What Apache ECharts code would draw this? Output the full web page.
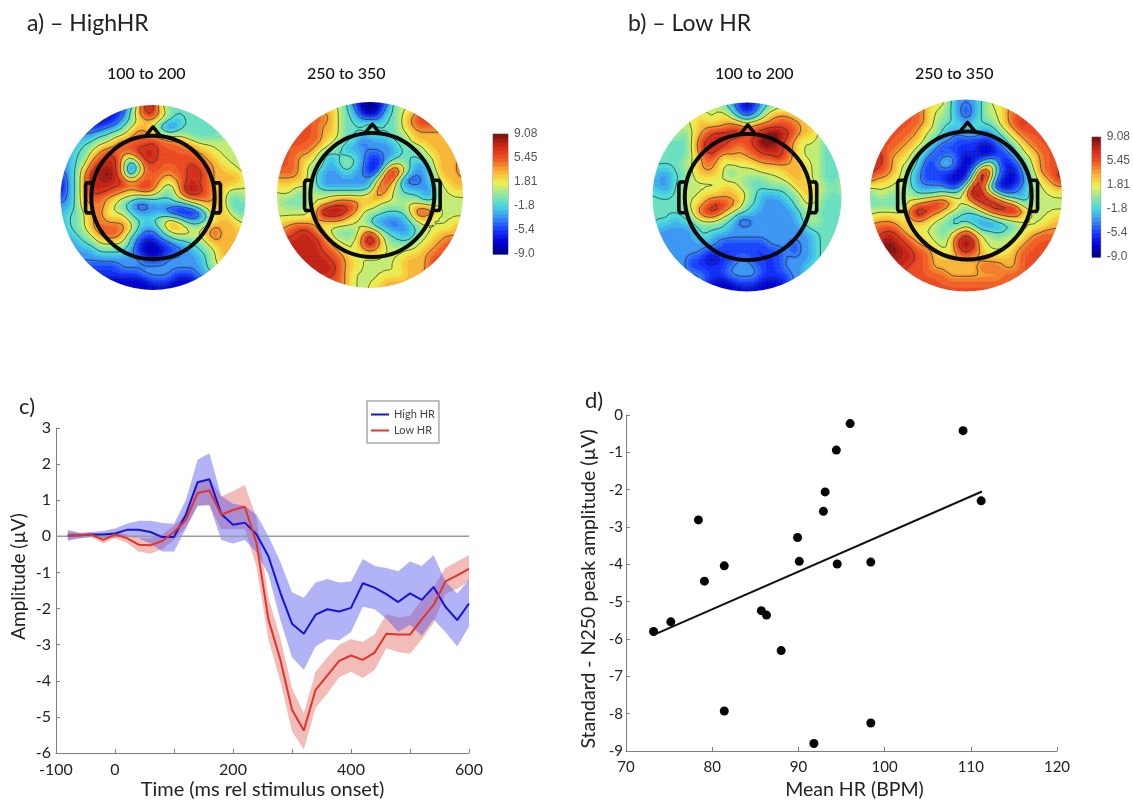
<!DOCTYPE html>
<html><head><meta charset="utf-8">
<style>html,body{margin:0;padding:0;background:#fff}#c{width:1133px;height:801px}</style>
<script src="https://cdn.jsdelivr.net/npm/echarts@6/dist/echarts.min.js"></script>
</head><body><div id="c"></div>
<script>
// Digit scale of the topographic grids: 0=-9 ... 9=+9 µV, nodes
const levelValues = [-9,-7,-5,-3,-1,1,3,5,7,9];
const highEarly = [
"2 2 2 2 2 2 2 2 2 3 5 8 8 5 4 4 4 4 4 4 4 4 4 4 4",
"2 2 2 2 2 2 2 1 2 4 6 8 8 6 5 4 4 4 4 4 4 4 4 4 4",
"2 2 2 2 1 1 1 2 3 4 5 6 6 5 4 3 4 4 4 4 4 4 4 4 4",
"3 3 3 2 2 2 3 3 4 5 6 6 5 3 2 3 4 4 4 4 4 5 5 5 5",
"3 3 3 3 3 4 4 5 5 6 7 7 6 6 5 5 5 4 4 4 4 4 5 5 5",
"3 3 3 4 4 5 5 6 7 7 7 7 8 7 7 7 6 6 5 5 5 5 5 5 5",
"3 3 4 4 5 6 7 7 7 7 8 8 8 7 7 7 7 7 6 6 5 5 5 5 5",
"3 3 4 4 6 7 8 8 6 4 6 8 8 7 7 7 7 7 7 6 6 5 5 5 5",
"3 3 4 5 7 8 8 8 6 2 3 7 7 7 7 7 7 8 7 7 6 6 5 5 4",
"2 3 4 6 8 8 9 8 6 2 5 7 7 7 6 7 7 8 8 7 6 6 6 6 5",
"1 3 4 6 8 8 8 8 8 7 7 7 7 6 5 6 7 8 7 7 6 6 6 6 5",
"1 3 4 6 8 8 8 7 7 6 7 8 7 5 4 5 8 9 8 7 6 6 5 5 5",
"2 3 4 6 7 7 6 6 5 5 4 4 4 4 4 5 6 7 7 7 6 6 4 4 5",
"3 3 4 6 6 7 6 5 4 3 2 2 3 3 3 3 3 4 5 6 6 6 4 4 4",
"3 4 4 5 6 7 5 5 5 4 3 3 3 3 2 1 1 1 2 4 6 6 5 4 4",
"3 4 4 5 6 7 6 6 6 5 4 4 4 5 6 6 4 3 3 4 5 6 6 5 5",
"3 4 4 5 6 7 7 7 7 6 4 3 3 4 6 6 6 5 5 6 7 6 6 6 5",
"3 3 4 4 5 6 7 7 6 4 3 2 2 3 4 5 5 5 5 6 7 6 6 6 5",
"3 3 3 4 4 5 5 5 5 4 2 1 1 2 2 3 3 4 4 5 6 6 6 6 5",
"3 3 3 3 3 4 4 4 4 3 2 1 0 1 2 2 3 3 4 4 5 6 6 6 5",
"3 3 3 3 3 3 3 3 3 3 3 2 2 2 3 3 3 3 3 4 5 6 6 6 5",
"2 2 2 2 2 2 2 2 3 3 3 3 3 3 3 3 3 3 3 4 5 5 6 6 6",
"2 2 2 2 2 2 2 2 2 2 2 3 3 3 3 2 2 2 3 3 4 5 5 5 5",
"1 1 1 1 1 1 1 1 1 1 1 1 2 2 2 1 1 1 2 3 4 4 4 4 4",
"1 1 1 1 1 1 1 1 1 1 1 1 1 1 1 1 1 1 2 3 4 4 4 4 4"];
const highLate = [
"7 7 7 7 7 5 5 5 5 4 2 1 0 1 2 4 5 5 5 6 6 6 6 6 6",
"7 7 7 7 7 6 6 6 5 4 3 1 0 1 3 4 5 5 6 7 7 6 6 6 6",
"7 7 7 7 7 7 7 6 5 4 4 2 2 2 4 4 5 6 7 8 7 7 6 6 6",
"7 7 7 7 7 7 6 6 5 4 4 4 5 4 4 4 5 6 7 7 7 7 6 6 6",
"7 7 7 7 7 7 6 6 5 4 4 4 4 4 4 4 5 5 6 6 6 6 6 6 6",
"7 7 7 7 7 7 6 5 5 4 4 2 3 3 3 4 4 5 6 6 6 6 6 6 6",
"7 7 7 7 7 6 5 5 4 3 3 3 3 3 3 3 4 4 4 5 6 6 6 6 6",
"7 7 7 6 6 5 4 3 4 4 4 3 2 2 3 3 4 4 4 5 5 6 6 6 6",
"7 7 7 6 5 5 4 3 4 5 4 3 2 1 3 5 5 4 3 3 5 6 6 6 7",
"7 7 7 6 5 4 3 3 3 4 3 3 1 2 6 9 7 4 3 3 4 6 6 6 7",
"6 6 6 6 5 4 3 3 3 3 3 3 3 5 8 7 3 2 2 3 4 5 6 6 6",
"5 6 5 5 5 4 3 3 3 3 3 3 3 7 7 5 4 3 3 3 3 5 5 6 6",
"5 5 5 4 5 5 5 5 5 5 5 5 6 7 6 5 4 4 4 3 3 5 5 5 5",
"5 4 4 4 4 5 5 6 7 7 7 6 6 5 5 5 5 5 5 4 4 5 5 5 5",
"5 5 5 5 5 6 9 9 9 8 7 5 5 5 4 4 4 5 7 8 7 5 5 5 5",
"5 5 5 5 5 6 7 7 7 6 5 5 4 3 3 3 3 4 6 6 5 5 5 5 5",
"6 6 7 7 7 6 5 5 5 5 5 5 4 3 3 2 3 3 4 5 5 5 5 6 6",
"6 7 7 8 8 7 6 5 4 4 4 6 8 6 4 4 3 3 4 5 5 6 6 6 6",
"7 8 8 8 8 8 7 6 5 5 5 7 9 7 5 4 4 4 5 5 6 6 7 7 7",
"8 8 8 8 8 8 7 7 6 5 5 6 7 6 5 5 5 5 5 6 6 7 7 7 7",
"8 8 8 8 8 8 8 7 7 6 5 5 5 5 5 5 5 6 6 6 7 7 7 7 7",
"8 8 8 8 8 8 8 8 7 6 6 5 5 5 5 5 6 6 6 6 7 8 7 7 7",
"8 8 8 8 8 8 8 8 7 6 5 5 5 5 5 5 5 6 6 6 7 8 7 7 7",
"8 8 8 8 8 8 7 7 7 6 5 5 5 5 6 6 6 6 6 7 7 7 7 7 7",
"7 7 7 7 7 7 7 7 7 6 5 5 5 6 6 6 6 6 6 7 7 7 7 7 7"];
const lowEarly = [
"5 5 5 5 5 5 5 5 5 4 3 2 1 2 3 4 5 5 5 5 5 5 5 5 5",
"5 5 5 5 5 5 5 5 5 5 4 2 1 2 4 5 5 5 5 5 5 5 5 5 5",
"5 5 5 5 5 5 6 5 5 6 5 4 3 4 5 6 7 7 6 6 5 5 5 5 5",
"5 5 5 5 5 5 6 6 6 6 7 7 6 7 7 7 7 7 7 6 6 5 5 5 5",
"5 5 5 5 4 5 6 7 8 8 8 8 7 7 8 9 9 8 7 6 6 5 5 5 4",
"5 5 4 4 4 5 7 8 8 8 7 7 7 8 9 9 8 7 6 5 5 5 4 4 4",
"5 5 4 4 4 5 7 8 8 7 7 6 7 7 8 8 8 7 6 5 5 5 4 4 4",
"4 4 4 4 4 5 6 7 7 5 6 6 6 7 7 7 8 7 6 5 5 5 4 4 4",
"4 4 4 4 5 5 6 7 6 5 5 5 5 5 6 6 6 6 6 6 5 5 4 4 4",
"4 3 3 4 4 5 6 6 6 5 4 5 5 5 5 5 5 6 6 6 5 5 4 4 4",
"3 3 3 4 4 5 5 5 5 5 5 5 4 4 4 5 5 5 6 6 5 5 4 4 5",
"4 3 3 4 5 5 5 5 5 6 6 5 5 4 4 4 4 4 5 6 6 5 5 4 5",
"4 4 4 4 5 5 5 6 6 6 6 6 5 4 3 3 3 4 4 5 6 5 4 4 4",
"4 4 4 4 5 5 6 7 8 8 7 6 4 4 3 3 3 3 4 5 5 5 4 4 4",
"4 4 4 4 4 5 7 8 8 6 5 4 4 3 3 3 3 3 3 4 5 4 4 4 4",
"4 4 4 3 4 4 5 5 5 4 4 2 2 3 3 3 3 3 3 4 5 5 4 4 4",
"4 3 3 3 3 3 4 4 4 4 3 3 3 3 3 3 3 3 3 3 4 4 4 4 4",
"3 3 3 3 3 3 4 4 3 3 3 3 3 3 3 3 3 3 3 3 3 4 4 4 4",
"3 3 3 3 3 3 3 3 3 2 2 2 2 2 2 3 3 3 2 3 3 4 4 4 4",
"3 3 3 3 3 3 3 2 2 2 2 2 2 2 2 2 2 3 2 3 3 4 4 4 4",
"3 3 3 3 3 2 2 1 1 2 2 3 3 2 2 2 2 3 3 3 3 4 4 4 4",
"3 3 3 3 3 2 2 2 2 2 3 3 3 3 2 2 2 3 3 3 4 4 4 4 4",
"3 3 3 3 3 3 3 2 2 2 3 3 3 3 2 2 2 2 3 3 4 4 4 4 4",
"3 3 3 3 3 3 3 2 1 1 1 2 2 2 1 1 1 2 3 3 4 4 4 4 4",
"1 1 1 1 1 1 1 1 1 1 1 1 1 1 1 1 1 1 2 3 4 4 4 4 4"];
const lowLate = [
"6 6 6 6 6 6 6 6 6 6 4 3 3 3 4 5 6 6 6 6 6 6 6 6 6",
"7 7 7 7 7 7 7 6 5 5 4 3 2 3 4 5 5 6 7 7 7 7 7 7 7",
"7 7 7 7 7 7 7 6 5 5 4 3 2 3 4 5 5 6 7 7 7 7 7 7 7",
"7 7 7 7 7 7 7 6 5 4 4 4 3 4 4 4 5 6 7 8 7 7 7 7 7",
"7 7 7 7 7 7 6 5 5 4 3 3 4 4 3 3 4 5 6 7 7 7 7 7 7",
"7 7 7 7 7 6 6 5 4 3 3 2 2 2 2 2 3 4 5 6 7 7 7 7 7",
"8 7 7 7 6 6 5 4 3 2 2 2 2 2 1 1 2 3 4 5 6 7 7 7 7",
"8 8 7 6 6 5 4 3 2 2 3 2 1 2 1 1 2 2 3 5 5 6 7 7 7",
"8 8 7 6 5 5 4 2 2 4 4 2 1 1 3 6 3 1 2 3 5 6 7 7 7",
"8 7 7 6 5 4 3 2 2 2 2 1 1 3 9 7 3 2 1 3 4 6 7 7 8",
"7 6 6 5 5 4 3 2 2 2 1 1 1 6 9 6 2 1 1 2 4 5 6 7 8",
"5 5 5 5 5 4 3 3 3 3 2 2 5 9 7 3 1 1 2 3 4 5 5 6 6",
"4 5 5 4 5 5 4 4 4 5 5 5 6 9 8 7 5 3 3 3 4 5 5 5 5",
"4 4 4 4 4 5 6 7 8 8 7 5 5 6 8 8 8 7 6 4 4 5 5 5 5",
"5 5 5 5 5 7 9 8 7 6 5 5 4 4 5 7 8 8 9 7 5 5 5 5 5",
"5 6 6 6 5 6 7 6 5 5 4 3 3 3 3 3 4 5 5 5 5 5 5 6 6",
"7 7 7 7 6 5 5 5 5 4 4 4 6 4 3 3 3 3 4 5 5 5 6 6 6",
"7 7 8 8 7 6 6 5 5 4 5 7 8 7 5 5 4 5 5 5 6 7 7 7 7",
"7 8 9 8 8 7 6 6 5 5 5 8 9 8 5 5 5 5 5 6 7 7 7 7 7",
"7 8 8 9 8 8 7 7 6 5 5 7 8 7 6 5 5 5 6 7 7 7 7 7 7",
"7 8 8 8 8 8 7 7 6 6 6 6 6 6 6 6 6 6 6 7 7 7 7 7 7",
"7 7 8 8 8 7 7 7 6 6 6 6 6 6 7 7 7 6 6 7 7 8 7 7 7",
"7 7 7 7 7 7 7 7 7 7 6 6 6 6 6 6 6 7 7 7 7 7 7 7 7",
"7 7 7 7 7 7 7 7 7 7 7 7 7 7 7 7 7 7 7 7 7 7 7 7 7",
"7 7 7 7 7 7 7 7 7 7 7 7 7 7 7 7 7 7 7 7 7 7 7 7 7"];

const contourLevels = [-6.43,-3.86,-1.29,1.29,3.86,6.43];
const colorbarTickLabels = ['-9.0','-5.4','-1.8','1.81','5.45','9.08'];
const colorStops = [[-9,'#00007f'],[-7.2,'#0000d8'],[-5.4,'#1538ff'],[-3.6,'#3a8cf5'],[-1.8,'#45d8e0'],[0,'#90e8a0'],[1.81,'#f2f04a'],[3.6,'#f8ac34'],[5.45,'#ee5224'],[7.2,'#d42a18'],[9.08,'#741010']];

// c) event-related potentials
const times = [-80,-60,-40,-20,0,20,40,60,80,100,120,140,160,180,200,220,240,260,280,300,320,340,360,380,400,420,440,460,480,500,520,540,560,580,600];
const highMean = [.02,.03,.05,.05,.08,.18,.18,.12,-.02,-.02,.6,1.5,1.58,.62,.32,.38,.05,-.55,-1.55,-2.42,-2.7,-2.17,-2.02,-2.08,-1.98,-1.3,-1.42,-1.6,-1.82,-1.58,-1.76,-1.4,-1.95,-2.32,-1.86];
const highUpper = [.18,.1,.12,.15,.22,.35,.43,.43,.37,.35,1.0,2.12,2.3,1.12,.9,.85,.6,0,-.7,-1.55,-1.7,-1.28,-1.18,-1.28,-1.25,-.63,-.82,-.88,-.97,-.7,-.82,-.52,-1.25,-1.58,-1.2];
const highLower = [-.13,-.05,-.02,-.05,-.03,0,-.05,-.2,-.42,-.42,.2,.85,.88,-.1,-.2,-.1,-.45,-1.05,-2.3,-3.35,-3.7,-3.05,-2.85,-2.88,-2.65,-1.95,-2.02,-2.28,-2.65,-2.45,-2.75,-2.3,-2.65,-3.05,-2.5];
const lowMean = [.02,.03,.05,-.1,.05,-.05,-.23,-.25,-.13,.12,.45,1.2,1.27,.6,.73,.82,-.2,-2.3,-3.4,-4.8,-5.38,-4.25,-3.85,-3.45,-3.3,-3.42,-3.22,-2.7,-2.72,-2.72,-2.3,-1.9,-1.25,-1.08,-.9];
const lowUpper = [.13,.1,.08,0,.12,.05,-.05,-.05,.05,.3,.6,1.52,1.6,1.1,1.25,1.42,.5,-1.7,-2.8,-4.2,-4.9,-3.75,-3.35,-3,-2.85,-2.92,-2.72,-2.15,-2.25,-2.2,-1.75,-1.4,-.88,-.7,-.52];
const lowLower = [-.08,-.05,-.02,-.2,-.05,-.18,-.42,-.48,-.35,-.1,.25,.85,.85,.2,.2,.2,-.85,-2.85,-4,-5.4,-5.9,-4.75,-4.35,-3.9,-3.75,-3.92,-3.7,-3.1,-3.2,-3.25,-2.85,-2.4,-1.6,-1.45,-1.25];
const timeTickLabels = [-100,0,200,400,600];

// d) scatter
const meanHR = [73.2,75.2,78.4,79.1,81.4,81.4,85.7,86.3,88,89.9,90.1,91.8,92.9,93.1,94.4,94.5,96,98.4,98.4,109.1,111.2];
const n250 = [-5.8,-5.54,-2.81,-4.45,-4.04,-7.93,-5.24,-5.36,-6.31,-3.28,-3.92,-8.8,-2.58,-2.06,-.94,-3.99,-.23,-3.94,-8.25,-.42,-2.3];
const fitX = [73.4,111.3];
const fitY = [-5.87,-2.05];

// layout
const FONT = 'Lato, "Open Sans", sans-serif';
const mapPanels = [
 {rows:highEarly, cx:153, cy:197.5, R:92.5, hx:0, title:'100 to 200', tx:107},
 {rows:highLate,  cx:370, cy:195,   R:93,   hx:.3, title:'250 to 350', tx:307},
 {rows:lowEarly,  cx:747, cy:197,   R:94.5, hx:.1, title:'100 to 200', tx:715},
 {rows:lowLate,   cx:966, cy:195.5, R:96,   hx:.2, title:'250 to 350', tx:915}
];
const colorbars = [{left:493,top:134},{left:1092,top:137}];
// head outline in grid units relative to head centre
const HEAD_R = 8;
const nose = [[-1.05,-7.85],[0,-9.15],[1.05,-7.85]];
const earL = [[-7.75,-1.9],[-8.6,-1.9],[-8.75,-1.6],[-8.75,1.7],[-8.6,2],[-7.75,2]];

// Display field for contouring: the read nodes rendered on a finer mesh with a small smoothing kernel
const FINE = 2;
const GAIN = 1.1;
function displayField(rows){
  const m=rows.map(r=>r.split(' ').map(d=>levelValues[+d]));
  const n=m.length-1, N=n*FINE;
  let f=[];
  for(let y=0;y<=N;y++){
    const row=[];
    for(let x=0;x<=N;x++){
      const gx=x/FINE,gy=y/FINE,x0=Math.min(n-1,Math.floor(gx)),y0=Math.min(n-1,Math.floor(gy)),tx=gx-x0,ty=gy-y0;
      row.push((m[y0][x0]*(1-tx)+m[y0][x0+1]*tx)*(1-ty)+(m[y0+1][x0]*(1-tx)+m[y0+1][x0+1]*tx)*ty);
    }
    f.push(row);
  }
  for(let pass=0;pass<2;pass++){
    const g=f.map(r=>r.slice());
    for(let y=0;y<=N;y++)for(let x=0;x<=N;x++){
      let s=0,w=0;
      for(let dy=-1;dy<=1;dy++)for(let dx=-1;dx<=1;dx++){
        const yy=y+dy,xx=x+dx; if(yy<0||xx<0||yy>N||xx>N) continue;
        const k=(2-Math.abs(dx))*(2-Math.abs(dy)); s+=f[yy][xx]*k; w+=k;
      }
      g[y][x]=s/w;
    }
    f=g;
  }
  return f.map(r=>r.map(v=>Math.max(-9,Math.min(9,v*GAIN))));
}

const hex = c => [1,3,5].map(k => parseInt(c.substr(k,2),16));
function colorOf(v){
  for(let k=1;k<colorStops.length;k++){
    if(v<=colorStops[k][0]){
      const [a,ca]=colorStops[k-1],[b,cb]=colorStops[k];
      const t=Math.max(0,(v-a)/(b-a)),A=hex(ca),B=hex(cb);
      return 'rgb('+A.map((x,i)=>Math.round(x+(B[i]-x)*t)).join(',')+')';
    }
  }
  return colorStops[colorStops.length-1][1];
}
const BANDS = 30, VMIN=-9.08, VMAX=9.08, BW=(VMAX-VMIN)/BANDS;
const bandColors = Array.from({length:BANDS},(_,k)=>colorOf(VMIN+(k+.5)*BW));

function clip(poly,lim,above){
  const out=[];
  for(let i=0;i<poly.length;i++){
    const a=poly[i],b=poly[(i+1)%poly.length];
    const ina=above?a[2]>=lim:a[2]<=lim, inb=above?b[2]>=lim:b[2]<=lim;
    if(ina) out.push(a);
    if(ina!==inb){const t=(lim-a[2])/(b[2]-a[2]);out.push([a[0]+(b[0]-a[0])*t,a[1]+(b[1]-a[1])*t,lim]);}
  }
  return out;
}
const inCircle=(j,i)=>{
  let best=1e9;
  for(const [x,y] of [[j,i],[j+1,i],[j,i+1],[j+1,i+1]]) best=Math.min(best,Math.hypot(x/FINE-12,y/FINE-12));
  return best<=12;
};
function triangles(m,j,i){
  const P=(x,y)=>[x/FINE,y/FINE,m[y][x]];
  return [[P(j,i),P(j+1,i),P(j+1,i+1)],[P(j,i),P(j+1,i+1),P(j,i+1)]];
}
function fillItem(m){
  return (params,api)=>{
    const j=Math.round(api.value(0)*FINE),i=Math.round(api.value(1)*FINE),children=[];
    for(const tri of triangles(m,j,i)){
      const vs=tri.map(p=>p[2]);
      const k0=Math.max(0,Math.floor((Math.min(...vs)-VMIN)/BW)),k1=Math.min(BANDS-1,Math.floor((Math.max(...vs)-VMIN)/BW));
      for(let k=k0;k<=k1;k++){
        let poly=clip(clip(tri,VMIN+k*BW,true),VMIN+(k+1)*BW,false);
        if(poly.length<3) continue;
        children.push({type:'polygon',silent:true,shape:{points:poly.map(p=>api.coord([p[0],p[1]]))},
          style:{fill:bandColors[k],stroke:bandColors[k],lineWidth:.8}});
      }
    }
    return {type:'group',children};
  };
}
function contourItem(m){
  return (params,api)=>{
    const j=Math.round(api.value(0)*FINE),i=Math.round(api.value(1)*FINE),children=[];
    for(const tri of triangles(m,j,i)) for(const L of contourLevels){
      const pts=[];
      for(let e=0;e<3;e++){
        const a=tri[e],b=tri[(e+1)%3];
        if((a[2]<L)!==(b[2]<L)){const t=(L-a[2])/(b[2]-a[2]);pts.push(api.coord([a[0]+(b[0]-a[0])*t,a[1]+(b[1]-a[1])*t]));}
      }
      if(pts.length===2) children.push({type:'line',silent:true,shape:{x1:pts[0][0],y1:pts[0][1],x2:pts[1][0],y2:pts[1][1]},style:{stroke:'#24352f',opacity:.72,lineWidth:1}});
    }
    return {type:'group',children};
  };
}
function maskItem(params,api){
  const c=api.coord([12,12]),r=api.size([12,0])[0];
  return {type:'circle',silent:true,shape:{cx:c[0],cy:c[1],r:r+5},style:{fill:'none',stroke:'#fff',lineWidth:10}};
}
function headItem(hx){
  return (params,api)=>{
    const c=api.coord([12+hx,12]),r=api.size([HEAD_R,0])[0];
    const rel=(a,sx)=>a.map(p=>api.coord([12+hx+p[0]*sx,12+p[1]]));
    const st={fill:'none',stroke:'#0a0a0a',lineWidth:3.6,lineJoin:'round'};
    return {type:'group',children:[
      {type:'polyline',silent:true,shape:{points:rel(earL,1)},style:st},
      {type:'polyline',silent:true,shape:{points:rel(earL,-1)},style:st},
      {type:'polyline',silent:true,shape:{points:rel(nose,1)},style:st},
      {type:'circle',silent:true,shape:{cx:c[0],cy:c[1],r},style:{fill:'none',stroke:'#0a0a0a',lineWidth:4}}
    ]};
  };
}

const grid=[],xAxis=[],yAxis=[],series=[],graphicEls=[];
const hiddenAxis=(min,max,inv)=>({type:'value',min,max,inverse:!!inv,show:false,splitLine:{show:false}});

mapPanels.forEach(p=>{
  const idx=grid.length;
  grid.push({left:p.cx-p.R,top:p.cy-p.R,width:2*p.R,height:2*p.R});
  xAxis.push({...hiddenAxis(0,24),gridIndex:idx});
  yAxis.push({...hiddenAxis(0,24,true),gridIndex:idx});
  const m=displayField(p.rows),cells=[],N=m.length-1;
  for(let i=0;i<N;i++)for(let j=0;j<N;j++) if(inCircle(j,i)) cells.push([j/FINE,i/FINE]);
  const base={type:'custom',coordinateSystem:'cartesian2d',xAxisIndex:idx,yAxisIndex:idx,silent:true,animation:false,clip:false,progressive:0};
  series.push({...base,z:2,data:cells,renderItem:fillItem(m)});
  series.push({...base,z:3,data:cells,renderItem:contourItem(m)});
  series.push({...base,z:4,data:[[12,12]],renderItem:maskItem});
  series.push({...base,z:5,data:[[12,12]],renderItem:headItem(p.hx)});
  graphicEls.push({type:'text',left:p.tx,top:66,style:{text:p.title,font:'500 16px '+FONT,fill:'#111'}});
});

colorbars.forEach(b=>{
  const idx=grid.length;
  grid.push({left:b.left,top:b.top,width:15,height:120,show:true,borderColor:'#8a8a8a',borderWidth:1,backgroundColor:'#fff'});
  xAxis.push({...hiddenAxis(0,1),gridIndex:idx});
  yAxis.push({type:'value',gridIndex:idx,min:0,max:5,interval:1,position:'right',
    axisLine:{show:false},axisTick:{show:false},splitLine:{show:false},
    axisLabel:{color:'#555',fontSize:12,margin:6,fontFamily:'"Liberation Sans",Arial,sans-serif',formatter:(v)=>colorbarTickLabels[Math.round(v)]}});
  series.push({type:'custom',coordinateSystem:'cartesian2d',xAxisIndex:idx,yAxisIndex:idx,silent:true,z:2,
    data:bandColors.map((c,k)=>[k,k]),
    renderItem:(params,api)=>{
      const k=api.value(0);
      const a=api.coord([0,5*k/BANDS]),b=api.coord([1,5*(k+1)/BANDS]);
      return {type:'rect',silent:true,shape:{x:a[0],y:b[1],width:b[0]-a[0],height:a[1]-b[1]+.5},style:{fill:bandColors[k]}};
    }});
});

// c)
const cIdx=grid.length;
const axisGray={color:'#7f7f7f',width:1};
const axisLineOpt={onZero:false,lineStyle:axisGray};
const tickOpt={inside:true,length:4,lineStyle:axisGray};
grid.push({left:56,top:428,width:413,height:326});
xAxis.push({type:'value',gridIndex:cIdx,min:-100,max:600,interval:100,name:'Time (ms rel stimulus onset)',nameLocation:'middle',nameGap:27,nameMoveOverlap:false,
  nameTextStyle:{fontFamily:FONT,fontSize:20,color:'#222'},
  axisLine:axisLineOpt,axisTick:tickOpt,splitLine:{show:false},
  axisLabel:{fontFamily:FONT,fontSize:16,color:'#222',margin:9,hideOverlap:false,showMinLabel:true,showMaxLabel:true,
    formatter:v=>timeTickLabels.includes(v)?String(v):''}});
yAxis.push({type:'value',gridIndex:cIdx,min:-6,max:3,interval:1,name:'Amplitude (µV)',nameLocation:'middle',nameGap:28,nameMoveOverlap:false,
  nameTextStyle:{fontFamily:FONT,fontSize:19,color:'#222',padding:[0,0,0,28]},
  axisLine:axisLineOpt,axisTick:tickOpt,splitLine:{show:false},
  axisLabel:{fontFamily:FONT,fontSize:16,color:'#222',margin:5}});
const bandItem=(upper,lower,fill)=>(params,api)=>{
  const pts=[];
  times.forEach((t,i)=>pts.push(api.coord([t,upper[i]])));
  for(let i=times.length-1;i>=0;i--) pts.push(api.coord([times[i],lower[i]]));
  return {type:'polygon',silent:true,shape:{points:pts},style:{fill}};
};
const cBase={xAxisIndex:cIdx,yAxisIndex:cIdx,silent:true};
series.push({...cBase,type:'custom',coordinateSystem:'cartesian2d',z:2,name:'band low',data:[[0,0]],renderItem:bandItem(lowUpper,lowLower,'rgba(225,95,85,.42)')});
series.push({...cBase,type:'custom',coordinateSystem:'cartesian2d',z:3,name:'band high',data:[[0,0]],renderItem:bandItem(highUpper,highLower,'rgba(85,85,235,.45)')});
series.push({...cBase,type:'line',z:4,name:'zero',data:[[-100,0],[600,0]],showSymbol:false,lineStyle:{color:'#9a9a9a',width:1.5}});
series.push({...cBase,type:'line',z:5,name:'High HR',data:times.map((t,i)=>[t,highMean[i]]),showSymbol:false,color:'#1414d6',lineStyle:{color:'#1414d6',width:2}});
series.push({...cBase,type:'line',z:6,name:'Low HR',data:times.map((t,i)=>[t,lowMean[i]]),showSymbol:false,color:'#e0352b',lineStyle:{color:'#e0352b',width:2}});

// d)
const dIdx=grid.length;
grid.push({left:626,top:415,width:431,height:341});
xAxis.push({type:'value',gridIndex:dIdx,min:70,max:120,interval:10,name:'Mean HR (BPM)',nameLocation:'middle',nameGap:29,nameMoveOverlap:false,
  nameTextStyle:{fontFamily:FONT,fontSize:19.5,color:'#222',padding:[0,0,0,26]},
  axisLine:axisLineOpt,axisTick:tickOpt,splitLine:{show:false},
  axisLabel:{fontFamily:FONT,fontSize:15,color:'#222',margin:9}});
yAxis.push({type:'value',gridIndex:dIdx,min:-9,max:0,interval:1,name:'Standard - N250 peak amplitude (µV)',nameLocation:'middle',nameGap:27,nameMoveOverlap:false,
  nameTextStyle:{fontFamily:FONT,fontSize:19.5,color:'#222',padding:[0,12,0,0]},
  axisLine:axisLineOpt,axisTick:tickOpt,splitLine:{show:false},
  axisLabel:{fontFamily:FONT,fontSize:15,color:'#222',margin:3}});
const dBase={xAxisIndex:dIdx,yAxisIndex:dIdx,silent:true};
series.push({...dBase,type:'line',z:3,name:'fit',data:fitX.map((x,i)=>[x,fitY[i]]),showSymbol:false,lineStyle:{color:'#111',width:2}});
series.push({...dBase,type:'scatter',z:4,name:'subjects',data:meanHR.map((x,i)=>[x,n250[i]]),symbolSize:9,itemStyle:{color:'#050505',opacity:1}});

const panelText=(text,left,top,size)=>({type:'text',left,top,style:{text,font:size+'px '+FONT,fill:'#222'}});
graphicEls.push(panelText('a) – HighHR',27,12,23),panelText('b) – Low HR',628,12,23),panelText('c)',19,396,22),panelText('d)',585,390,22));

const chart=echarts.init(document.getElementById('c'),null,{renderer:'canvas'});
chart.setOption({
  animation:false,backgroundColor:'#fff',tooltip:{show:false},
  grid,xAxis,yAxis,series,graphic:{elements:graphicEls},
  legend:{data:['High HR','Low HR'],left:367,top:401,orient:'vertical',padding:[8,4,7,4],itemGap:5,itemWidth:18,itemHeight:2,icon:'rect',
    borderColor:'#aaa',borderWidth:1.5,backgroundColor:'#fff',selectedMode:false,
    textStyle:{fontFamily:FONT,fontSize:11,color:'#444'}}
});
</script></body></html>
